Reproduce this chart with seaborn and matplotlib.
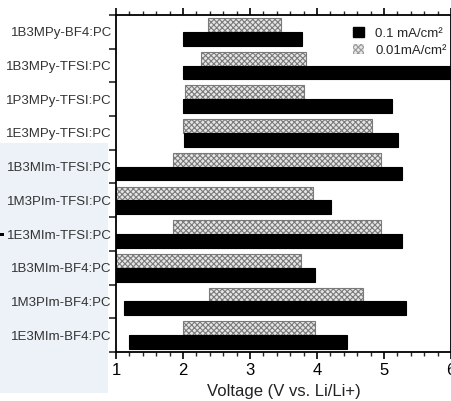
import matplotlib
matplotlib.use("Agg")
import matplotlib.pyplot as plt
from matplotlib.patches import Patch, Rectangle
from matplotlib.ticker import MultipleLocator, FixedLocator
import numpy as np
import pandas as pd
import seaborn as sns

# Electrochemical stability windows of the ionic-liquid / PC electrolytes
electrolytes = ["1B3MPy-BF4:PC", "1B3MPy-TFSI:PC", "1P3MPy-TFSI:PC", "1E3MPy-TFSI:PC",
                "1B3MIm-TFSI:PC", "1M3PIm-TFSI:PC", "1E3MIm-TFSI:PC", "1B3MIm-BF4:PC",
                "1M3PIm-BF4:PC", "1E3MIm-BF4:PC"]

# cut-off current density 0.01 mA/cm2 (reduction limit, oxidation limit), V vs Li/Li+
low_start = [2.37, 2.27, 2.03, 2.00, 1.85, 1.00, 1.85, 1.00, 2.39, 2.00]
low_end = [3.46, 3.84, 3.81, 4.82, 4.96, 3.94, 4.96, 3.76, 4.69, 3.97]

# cut-off current density 0.1 mA/cm2
high_start = [2.00, 2.00, 2.00, 2.01, 1.00, 1.00, 1.00, 1.00, 1.12, 1.20]
high_end = [3.78, 6.10, 5.12, 5.21, 5.27, 4.21, 5.27, 3.97, 5.33, 4.45]

label_high = "0.1 mA/cm²"
label_low = "0.01mA/cm²"

x_ticks = [1, 2, 3, 4, 5, 6]

df = pd.DataFrame({
    "electrolyte": electrolytes * 2,
    "density": [label_low] * len(electrolytes) + [label_high] * len(electrolytes),
    "start": low_start + high_start,
    "end": low_end + high_end,
})

sns.set_style("ticks")
plt.rcParams["font.family"] = ["Liberation Sans", "DejaVu Sans"]
plt.rcParams["hatch.linewidth"] = 0.8

fig = plt.figure(figsize=(4.52, 4.01), dpi=100)
# pale panel behind the lower category labels
fig.patches.append(Rectangle((0, 1 - 393 / 401), 108 / 452, (393 - 143) / 401,
                             transform=fig.transFigure, facecolor="#edf2f9",
                             edgecolor="none", zorder=-2))
fig.patches.append(Rectangle((0, 1 - 236 / 401), 4 / 452, 3 / 401,
                             transform=fig.transFigure, facecolor="black",
                             edgecolor="none", zorder=-1))

ax = fig.add_axes([116 / 452, 1 - 352 / 401, 335 / 452, 337 / 401])

sns.barplot(data=df, x="end", y="electrolyte", hue="density",
            order=electrolytes, hue_order=[label_low, label_high],
            palette={label_low: "#dcdcdc", label_high: "black"},
            width=0.82, dodge=True, errorbar=None, legend=False, ax=ax)

# turn the zero-based bars into floating windows [start, end]
lookup = {(r.electrolyte, r.density): (r.start, r.end) for r in df.itertuples()}
hatch_face = "#e6e6e6"
hatch_edge = "#7a7a7a"
for container in ax.containers:
    for bar in container:
        yc = bar.get_y() + bar.get_height() / 2
        idx = int(round(yc))
        upper = yc < idx
        dens = label_low if upper else label_high
        s, e = lookup[(electrolytes[idx], dens)]
        bar.set_x(s)
        bar.set_width(e - s)
        if upper:
            bar.set_facecolor(hatch_face)
            bar.set_edgecolor(hatch_edge)
            bar.set_hatch("xxxxxx")
            bar.set_linewidth(0.8)
        else:
            bar.set_facecolor("black")
            bar.set_edgecolor("black")
            bar.set_linewidth(0.8)

ax.set_xlim(1, 6)
ax.set_ylim(9.5, -0.5)
ax.set_xticks(x_ticks)
ax.set_xticklabels([str(t) for t in x_ticks])
ax.xaxis.set_minor_locator(MultipleLocator(0.2))
ax.yaxis.set_minor_locator(FixedLocator(np.arange(-0.5, 10, 1)))

for side in ["left", "right", "top", "bottom"]:
    ax.spines[side].set_visible(True)
    ax.spines[side].set_linewidth(1.3)
    ax.spines[side].set_color("black")

ax.tick_params(axis="x", which="major", direction="out", length=5, width=1.2,
               top=True, bottom=True, labeltop=False, labelsize=12, pad=3,
               colors="black")
ax.tick_params(axis="x", which="minor", direction="out", length=3, width=1.0,
               top=True, bottom=True)
ax.tick_params(axis="y", which="major", length=0, labelsize=9.5, pad=3,
               left=True, right=False, labelcolor="#333333")
ax.tick_params(axis="y", which="minor", direction="out", length=5, width=1.2,
               left=True, right=False)

ax.set_xlabel("Voltage (V vs. Li/Li+)", fontsize=12, labelpad=4, color="#222222")
ax.set_ylabel("")

handles = [Patch(facecolor="black", edgecolor="black", label=label_high),
           Patch(facecolor=hatch_face, edgecolor="#9a9a9a", hatch="xxxxxx",
                 linewidth=0.0, label=label_low)]
fig.legend(handles=handles, loc="upper left",
           bbox_to_anchor=(353 / 452, 1 - 27 / 401), frameon=False,
           fontsize=9.5, handlelength=0.8, handleheight=0.8,
           handletextpad=0.9, labelspacing=0.35, borderpad=0, borderaxespad=0)

fig.savefig("out.png", dpi=100)
